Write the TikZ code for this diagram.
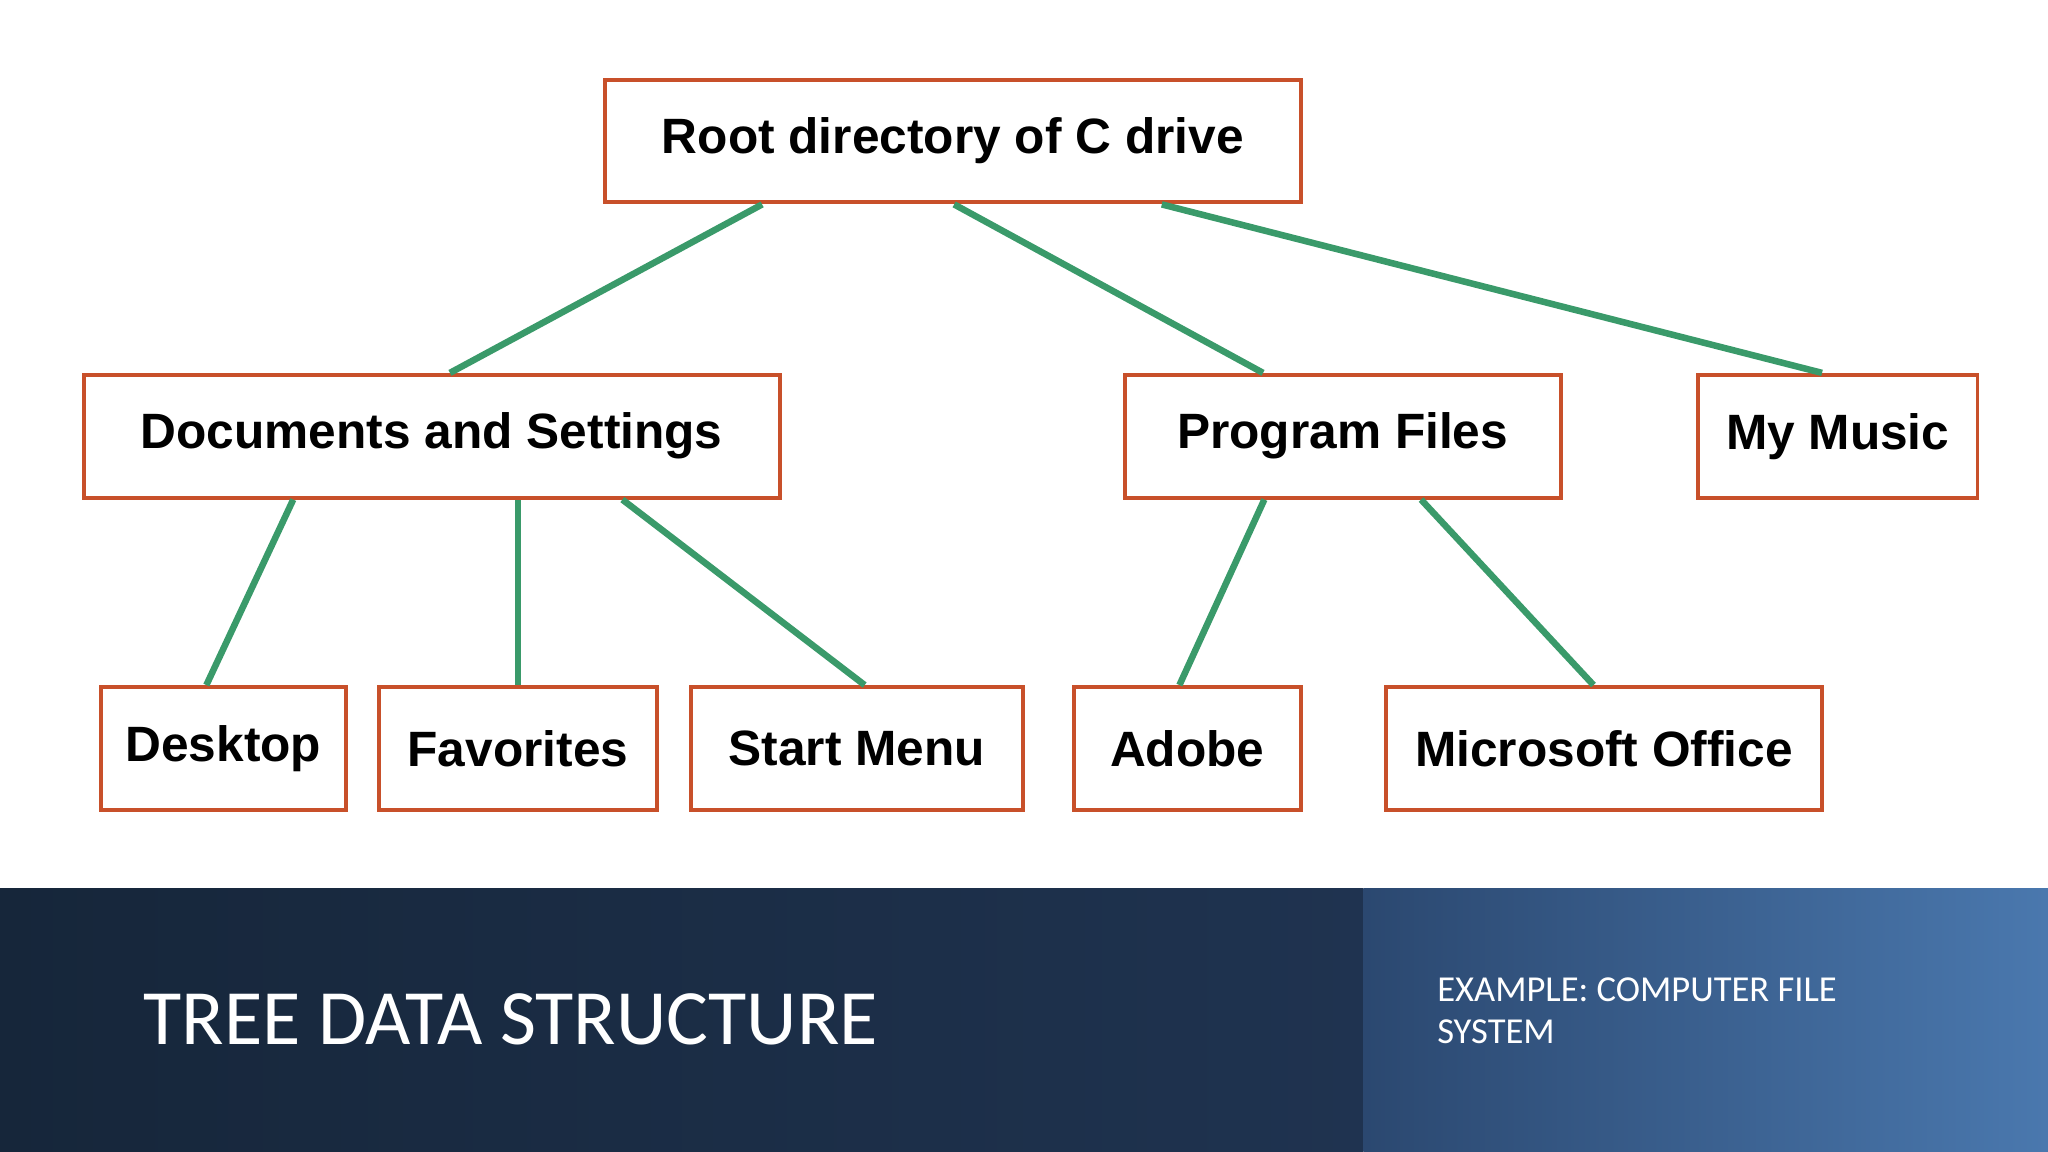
\documentclass[tikz,border=0pt]{standalone}
\usepackage{fontspec}
\setmainfont{Liberation Sans}
\newfontfamily\slidefont{Carlito}
\usetikzlibrary{calc}
\definecolor{boxred}{HTML}{C8502A}
\definecolor{linkgreen}{HTML}{3A9A6A}
\definecolor{navyA}{HTML}{16263A}
\definecolor{navyB}{HTML}{1F3350}
\definecolor{blueA}{HTML}{2B4870}
\definecolor{blueB}{HTML}{4A78AE}
\tikzset{
    dir/.style={draw=boxred, line width=1.5pt, fill=white, minimum height=47pt,
        inner sep=0pt, font=\fontsize{19}{22}\selectfont\bfseries},
    link/.style={draw=linkgreen, line width=2.5pt},
}
\begin{document}
\begin{tikzpicture}[x=0.5pt,y=-0.5pt]
    \useasboundingbox (0,0) rectangle (1568,882);
    %banner
    \shade[left color=navyA, right color=navyB] (0,680) rectangle (1044,882);
    \shade[left color=blueA, right color=blueB] (1044,680) rectangle (1568,882);
    \node[anchor=base west, white, font=\slidefont\fontsize{30}{34}\selectfont] (title) at (103,800) {TREE DATA STRUCTURE};
    \node[anchor=north west, white, align=left, inner sep=0pt, font=\slidefont\fontsize{14}{16}\selectfont] (sub) at (1100,748) {EXAMPLE: COMPUTER FILE\\SYSTEM};
    %directories
    \node[dir, minimum width=266.5pt] (root) at (729.5,108) {Root directory of C drive};
    \node[dir, minimum width=266.5pt] (docs) at (330.5,334) {Documents and Settings};
    \node[dir, minimum width=167pt] (prog) at (1028,334) {Program Files};
    \node[dir, minimum width=107pt] (music) at (1407,334) {My Music};
    \node[dir, minimum width=94pt] (desk) at (171,573) {Desktop};
    \node[dir, minimum width=106.5pt] (fav) at (396.5,573) {Favorites};
    \node[dir, minimum width=127pt] (start) at (656,573) {Start Menu};
    \node[dir, minimum width=87pt] (adobe) at (909,573) {Adobe};
    \node[dir, minimum width=167pt] (office) at (1228,573) {Microsoft Office};
    %links
    \draw[link] ([xshift=-73pt]root.south) -- ([xshift=7pt]docs.north);
    \draw[link] ([xshift=0.5pt]root.south) -- ([xshift=-30.5pt]prog.north);
    \draw[link] ([xshift=80pt]root.south) -- ([xshift=-6pt]music.north);
    \draw[link] ([xshift=-53pt]docs.south) -- ([xshift=-6.5pt]desk.north);
    \draw[link] ([xshift=33pt]docs.south) -- (fav.north);
    \draw[link] ([xshift=73pt]docs.south) -- ([xshift=3pt]start.north);
    \draw[link] ([xshift=-30pt]prog.south) -- ([xshift=-3pt]adobe.north);
    \draw[link] ([xshift=30pt]prog.south) -- ([xshift=-4pt]office.north);
\end{tikzpicture}
\end{document}
